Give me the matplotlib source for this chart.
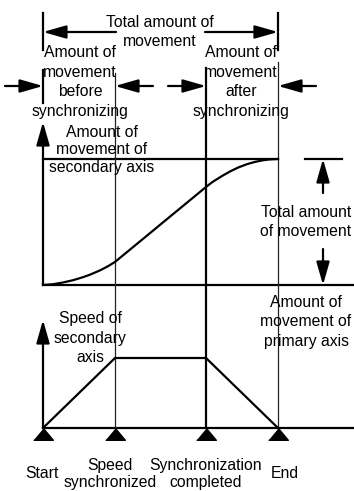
import matplotlib.pyplot as plt

plt.rcParams['font.family'] = ['Liberation Sans', 'DejaVu Sans']

# events along the primary axis (amount of movement of primary axis)
events = ['Start', 'Speed\nsynchronized', 'Synchronization\ncompleted', 'End']
event_t = [0, 72, 163, 235]

# speed of secondary axis (trapezoid)
speed = [0, 1, 1, 0]

# amount of movement of secondary axis (S-curve)
move_t = [0, 10, 20, 30, 40, 47, 57, 65, 72, 87, 104, 120, 137, 154, 163,
          169, 179, 187, 195, 204, 212, 220, 227, 235]
move_pos = [0, 0.006, 0.020, 0.038, 0.062, 0.082, 0.116, 0.149, 0.183, 0.281,
            0.392, 0.497, 0.608, 0.719, 0.778, 0.815, 0.865, 0.901, 0.932,
            0.959, 0.977, 0.990, 0.997, 1.0]

W, H = 354, 491
fig = plt.figure(figsize=(W / 100, H / 100), dpi=100)

# overlay in pixel-like units, x measured from the start line
ax = fig.add_axes([0, 0, 1, 1])
ax.set_xlim(-43, W - 43)
ax.set_ylim(H, 0)
ax.axis('off')

top = fig.add_axes([43 / W, 1 - 285 / H, 235 / W, 126 / H])
top.set_xlim(0, 235)
top.set_ylim(0, 1)
top.axis('off')

bot = fig.add_axes([43 / W, 1 - 428 / H, 235 / W, 70 / H])
bot.set_xlim(0, 235)
bot.set_ylim(0, 1)
bot.axis('off')

fs = 11.3
lw = 1.6
arrow = dict(arrowstyle='-|>,head_length=0.7,head_width=0.2', color='black',
             lw=lw, mutation_scale=20, shrinkA=0, shrinkB=0)


def arr(x0, y0, x1, y1):
    ax.annotate('', xy=(x1, y1), xytext=(x0, y0), arrowprops=arrow)


# curves
top.plot(move_t, move_pos, color='black', lw=lw, clip_on=False)
bot.plot(event_t, speed, color='black', lw=lw, clip_on=False)
bot.plot(event_t, [0] * 4, ls='none', color='black', clip_on=False,
         marker=[(-1, -1.2), (1, -1.2), (0, 0)], markersize=17)

# axes of both charts
ax.plot([0, W], [285, 285], color='black', lw=lw)
ax.plot([0, W], [428, 428], color='black', lw=lw)
ax.plot([0, 235], [159, 159], color='black', lw=lw)
arr(0, 285, 0, 122)
arr(0, 428, 0, 320)

# event lines
ax.plot([event_t[1]] * 2, [73, 428], color='#222222', lw=0.9)
ax.plot([event_t[2]] * 2, [68, 428], color='black', lw=lw)
ax.plot([event_t[3]] * 2, [62, 428], color='#222222', lw=0.9)
ax.plot([event_t[0]] * 2, [13, 50], color='black', lw=lw)
ax.plot([event_t[0]] * 2, [70, 103], color='black', lw=lw)
ax.plot([event_t[3]] * 2, [13, 50], color='black', lw=lw)

# dimension arrows
arr(73, 32, 0, 32)
arr(162, 32, 235, 32)
arr(-38, 86, 0, 86)
arr(110, 86, 72, 86)
arr(125, 86, 163, 86)
arr(273, 86, 235, 86)

ax.plot([262, 299], [159, 159], color='black', lw=lw)
arr(280, 193, 280, 159)
arr(280, 249, 280, 285)

kw = dict(ha='center', va='center', fontsize=fs)
ax.text(117, 32, 'Total amount of\nmovement', linespacing=1.37, **kw)
ax.text(37, 82, 'Amount of\nmovement\nbefore\nsynchronizing', linespacing=1.37, **kw)
ax.text(198, 82, 'Amount of\nmovement\nafter\nsynchronizing', linespacing=1.37, **kw)
ax.text(59, 150, 'Amount of\nmovement of\nsecondary axis', linespacing=1.24, **kw)
ax.text(263, 222, 'Total amount\nof movement', linespacing=1.3, **kw)
ax.text(263, 322, 'Amount of\nmovement of\nprimary axis', linespacing=1.37, **kw)
ax.text(47, 338, 'Speed of\nsecondary\naxis', linespacing=1.4, **kw)

label_x = [-1, 67, 163, 242]
label_y = [473, 474, 474, 473]
for name, x, y in zip(events, label_x, label_y):
    ax.text(x, y, name, linespacing=1.24, **kw)

fig.savefig('out.png', dpi=100)
